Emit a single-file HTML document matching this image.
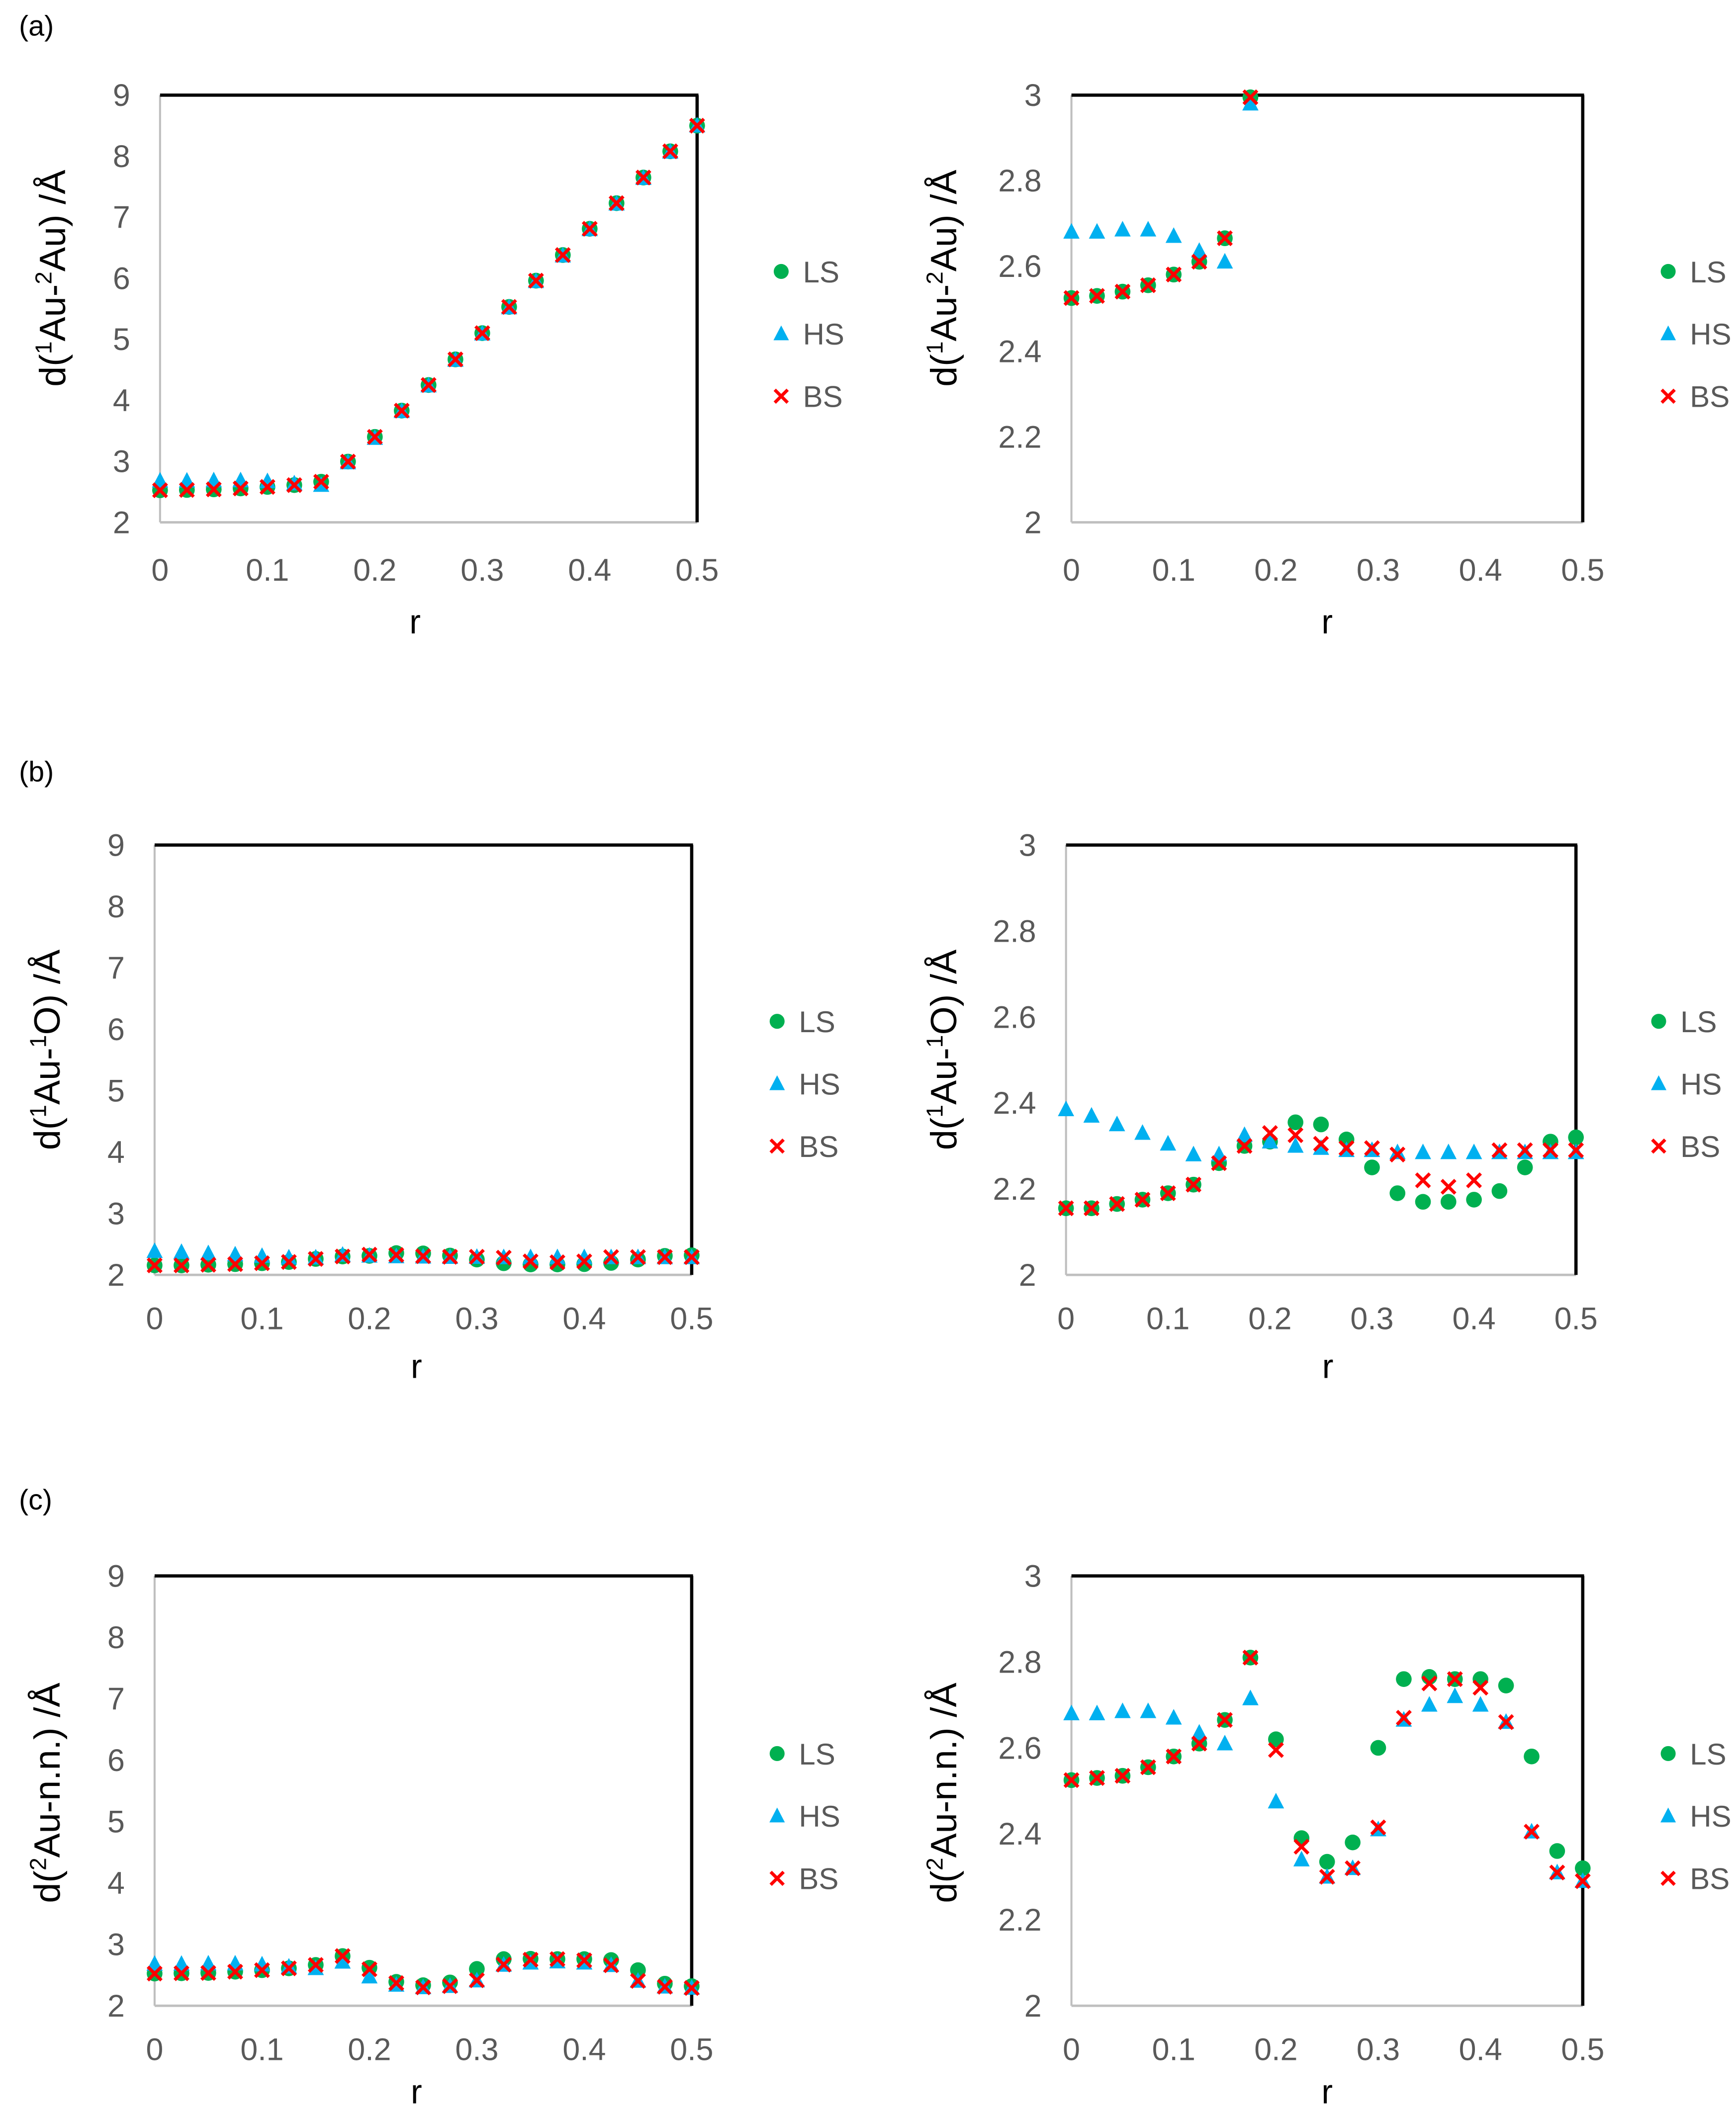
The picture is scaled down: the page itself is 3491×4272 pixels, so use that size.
<!DOCTYPE html>
<html><head><meta charset="utf-8"><style>
html,body{margin:0;padding:0;background:#fff;}
svg{display:block;}
text{font-family:"Liberation Sans",sans-serif;}
</style></head><body>
<svg id="fig" width="3491" height="4272" viewBox="0 0 1280 1566" xmlns="http://www.w3.org/2000/svg"></svg>
<script>
const rValues = [0,0.025,0.05,0.075,0.1,0.125,0.15,0.175,0.2,0.225,0.25,0.275,0.3,0.325,0.35,0.375,0.4,0.425,0.45,0.475,0.5];
const xTicks = [0,0.1,0.2,0.3,0.4,0.5];
const yTicksWide = [2,3,4,5,6,7,8,9];
const yTicksNarrow = [2,2.2,2.4,2.6,2.8,3];
const seriesNames = ["LS","HS","BS"];
// (a) d(1Au-2Au)
const aLS = [2.525,2.53,2.54,2.555,2.58,2.61,2.665,2.995,3.4,3.83,4.25,4.67,5.1,5.53,5.96,6.38,6.81,7.23,7.65,8.08,8.5];
const aHS = [2.68,2.68,2.685,2.685,2.67,2.635,2.61,2.98,3.38,3.82,4.24,4.66,5.09,5.52,5.95,6.37,6.80,7.22,7.64,8.07,8.5];
const aBS = [2.525,2.53,2.54,2.555,2.58,2.61,2.665,2.995,3.4,3.83,4.25,4.67,5.1,5.53,5.96,6.38,6.81,7.23,7.65,8.08,8.5];
// (b) d(1Au-1O)
const bLS = [2.155,2.155,2.165,2.175,2.19,2.21,2.26,2.30,2.31,2.355,2.35,2.315,2.25,2.19,2.17,2.17,2.175,2.195,2.25,2.31,2.32];
const bHS = [2.385,2.37,2.35,2.33,2.305,2.28,2.28,2.325,2.31,2.30,2.295,2.29,2.29,2.285,2.285,2.285,2.285,2.285,2.285,2.285,2.285];
const bBS = [2.155,2.155,2.165,2.175,2.19,2.21,2.26,2.30,2.33,2.325,2.305,2.295,2.295,2.28,2.22,2.205,2.22,2.29,2.29,2.29,2.29];
// (c) d(2Au-n.n.)
const cLS = [2.525,2.53,2.535,2.555,2.58,2.61,2.665,2.81,2.62,2.39,2.335,2.38,2.60,2.76,2.765,2.76,2.76,2.745,2.58,2.36,2.32];
const cHS = [2.68,2.68,2.685,2.685,2.67,2.635,2.61,2.715,2.475,2.34,2.30,2.32,2.41,2.665,2.70,2.72,2.70,2.66,2.405,2.31,2.29];
const cBS = [2.525,2.53,2.535,2.555,2.58,2.61,2.665,2.81,2.595,2.37,2.30,2.32,2.415,2.67,2.75,2.76,2.74,2.66,2.405,2.31,2.29];

const NS="http://www.w3.org/2000/svg";
const svg=document.getElementById('fig');
function el(tag,attrs,parent,txt){const e=document.createElementNS(NS,tag);for(const k in attrs)e.setAttribute(k,attrs[k]);if(txt!==undefined)e.textContent=txt;(parent||svg).appendChild(e);return e;}

const panels=[
 {id:'a-left',x0:118,x1:514,y0:70,y1:385,ticks:yTicksWide,data:[aLS,aHS,aBS],sup1:'1',mid:'Au-',sup2:'2',end:'Au) /Å',tx:40,tcy:205,lx:576,ly:200,xo:43,ro:82,rx:-10},
 {id:'a-right',x0:790,x1:1167,y0:70,y1:385,ticks:yTicksNarrow,data:[aLS,aHS,aBS],sup1:'1',mid:'Au-',sup2:'2',end:'Au) /Å',tx:697,tcy:205,lx:1230,ly:200,xo:43,ro:82,rx:0},
 {id:'b-left',x0:114,x1:510,y0:623,y1:940,ticks:yTicksWide,data:[bLS,bHS,bBS],sup1:'1',mid:'Au-',sup2:'1',end:'O) /Å',tx:36,tcy:774,lx:573,ly:753,xo:40,ro:76,rx:-5},
 {id:'b-right',x0:786,x1:1162,y0:623,y1:940,ticks:yTicksNarrow,data:[bLS,bHS,bBS],sup1:'1',mid:'Au-',sup2:'1',end:'O) /Å',tx:697,tcy:774,lx:1223,ly:753,xo:40,ro:76,rx:5},
 {id:'c-left',x0:114,x1:510,y0:1162,y1:1479,ticks:yTicksWide,data:[cLS,cHS,cBS],sup1:'2',mid:'Au-n.n.) /Å',sup2:'',end:'',tx:36,tcy:1322,lx:573,ly:1293,xo:40,ro:72,rx:-5},
 {id:'c-right',x0:790,x1:1167,y0:1162,y1:1479,ticks:yTicksNarrow,data:[cLS,cHS,cBS],sup1:'2',mid:'Au-n.n.) /Å',sup2:'',end:'',tx:697,tcy:1322,lx:1230,ly:1293,xo:40,ro:72,rx:0}
];
const colors=["#00B050","#00B0F0","#FF0000"];

function marker(g,k,x,y,s){
 let m;
 if(k===0) m=el('circle',{cx:x,cy:y,r:5.8*s,fill:colors[0]},g);
 else if(k===1) m=el('polygon',{points:`${x},${y-6.5*s} ${x+6*s},${y+5*s} ${x-6*s},${y+5*s}`,fill:colors[1]},g);
 else m=el('path',{d:`M${x-5*s},${y-5*s}L${x+5*s},${y+5*s}M${x+5*s},${y-5*s}L${x-5*s},${y+5*s}`,stroke:colors[2],'stroke-width':2.4,fill:'none'},g);
 return m;
}

panels.forEach(p=>{
 const g=el('g',{});
 
 
 const ymin=p.ticks[0], ymax=p.ticks[p.ticks.length-1];
 const sx=v=>p.x0+(v-0)/(0.5-0)*(p.x1-p.x0);
 const sy=v=>p.y1-(v-ymin)/(ymax-ymin)*(p.y1-p.y0);
 const la=el('line',{x1:p.x0,y1:p.y0,x2:p.x0,y2:p.y1,stroke:'#bfbfbf','stroke-width':1.5},g);
 
 const ba=el('line',{x1:p.x0,y1:p.y1,x2:p.x1,y2:p.y1,stroke:'#bfbfbf','stroke-width':1.8},g);
 
 const ta=el('line',{x1:p.x0,y1:p.y0,x2:p.x1+1,y2:p.y0,stroke:'#000','stroke-width':2.4},g);
 
 const ra=el('line',{x1:p.x1,y1:p.y0,x2:p.x1,y2:p.y1,stroke:'#000','stroke-width':2.4},g);
 
 p.ticks.forEach(t=>{
  const tt=el('text',{x:p.x0-22,y:sy(t)+8,'text-anchor':'end','font-size':23,fill:'#595959'},g,String(t));
  
 });
 xTicks.forEach(t=>{
  const tt=el('text',{x:sx(t),y:p.y1+p.xo,'text-anchor':'middle','font-size':23,fill:'#595959'},g,String(t));
  
 });
 const xt=el('text',{x:(p.x0+p.x1)/2+p.rx,y:p.y1+p.ro,'text-anchor':'middle','font-size':25,fill:'#000'},g,'r');
 
 const yt=el('text',{x:0,y:0,'text-anchor':'middle','font-size':27,fill:'#000',transform:`translate(${p.tx+8},${p.tcy}) rotate(-90)`},g);
 
 el('tspan',{},yt,'d(');
 el('tspan',{'font-size':17,dy:-10},yt,p.sup1);
 el('tspan',{dy:10},yt,p.mid);
 if(p.sup2){el('tspan',{'font-size':17,dy:-10},yt,p.sup2);el('tspan',{dy:10},yt,p.end);}
 p.data.forEach((arr,k)=>{
  const sg=el('g',{},g);
  
  
  arr.forEach((v,i)=>{
   if(v>ymax+0.03) return;
   const m=marker(sg,k,sx(rValues[i]),sy(v),1);
   
   
  });
 });
 seriesNames.forEach((n,k)=>{
  const lg=el('g',{},g);
  
  
  marker(lg,k,p.lx,p.ly+k*46,0.95);
  el('text',{x:p.lx+16,y:p.ly+k*46+8,'font-size':22,fill:'#595959'},lg,n);
 });
});
[['(a)',20],['(b)',570],['(c)',1107]].forEach(([t,y])=>{
 const e=el('text',{x:14,y:y+6,'font-size':21,fill:'#000','font-family':'"Liberation Serif",serif'},svg,t);
 
 
});
</script>
</body></html>
